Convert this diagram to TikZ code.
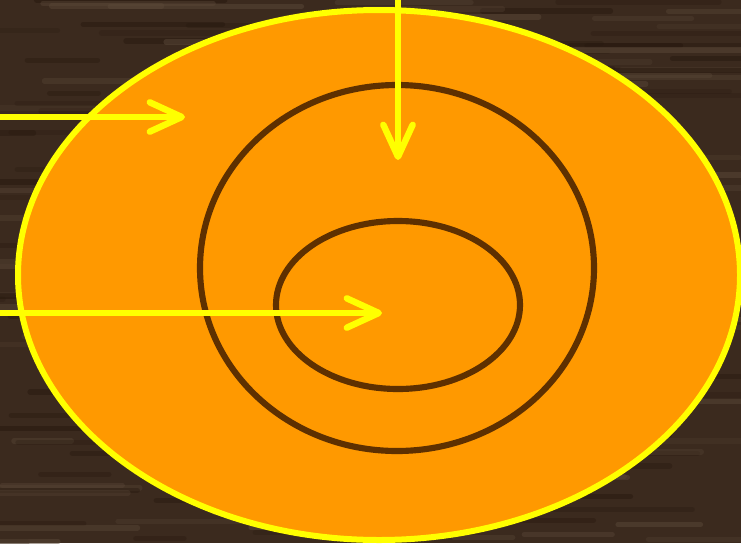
\documentclass[tikz,border=0pt]{standalone}
\usetikzlibrary{arrows.meta}
\definecolor{woodbase}{HTML}{3B2A1E}
\definecolor{woodlight}{HTML}{5A4838}
\definecolor{wooddark}{HTML}{28190F}
\definecolor{ringorange}{HTML}{FF9900}
\definecolor{ringyellow}{HTML}{FFFF00}
\definecolor{ringbrown}{HTML}{5E3000}
\tikzset{
  outerring/.style={fill=ringorange, draw=ringyellow, line width=4.5pt},
  innerring/.style={draw=ringbrown, line width=4.6pt},
  yarrow/.style={draw=ringyellow, line width=4.8pt,
    -{Straight Barb[length=24pt, width=22pt, line width=4.8pt, round]}},
  streak/.style={line width=4pt, line cap=round}
}
\begin{document}
\begin{tikzpicture}[x=0.75pt, y=-0.75pt]
  \useasboundingbox (0,0) rectangle (741,543);
  \fill[woodbase] (0,0) rectangle (741,543);
  \begin{scope}
    \clip (0,0) rectangle (741,543);
    \pgfmathsetseed{7}
    \foreach \i in {1,...,260} {
      \pgfmathsetmacro{\yy}{rnd*543}
      \pgfmathsetmacro{\xx}{rnd*741-60}
      \pgfmathsetmacro{\ll}{40+rnd*180}
      \pgfmathsetmacro{\op}{0.2+rnd*0.35}
      \pgfmathparse{rnd>0.5?1:0}
      \ifnum\pgfmathresult=1
        \draw[streak, woodlight, opacity=\op] (\xx,\yy) -- ++(\ll,0);
      \else
        \draw[streak, wooddark, opacity=\op] (\xx,\yy) -- ++(\ll,0);
      \fi
    }
  \end{scope}
  % rings
  \path[outerring] (379,275) ellipse [x radius=361, y radius=265];
  \path[innerring] (397,268) ellipse [x radius=197, y radius=183];
  \path[innerring] (398,305) ellipse [x radius=122, y radius=84];
  % arrows
  \coordinate (a1s) at (0,117);
  \coordinate (a1e) at (185,117);
  \coordinate (a2s) at (398,0);
  \coordinate (a2e) at (398,160);
  \coordinate (a3s) at (0,313);
  \coordinate (a3e) at (382,313);
  \draw[yarrow] (a1s) -- (a1e);
  \draw[yarrow] (a2s) -- (a2e);
  \draw[yarrow] (a3s) -- (a3e);
\end{tikzpicture}
\end{document}
